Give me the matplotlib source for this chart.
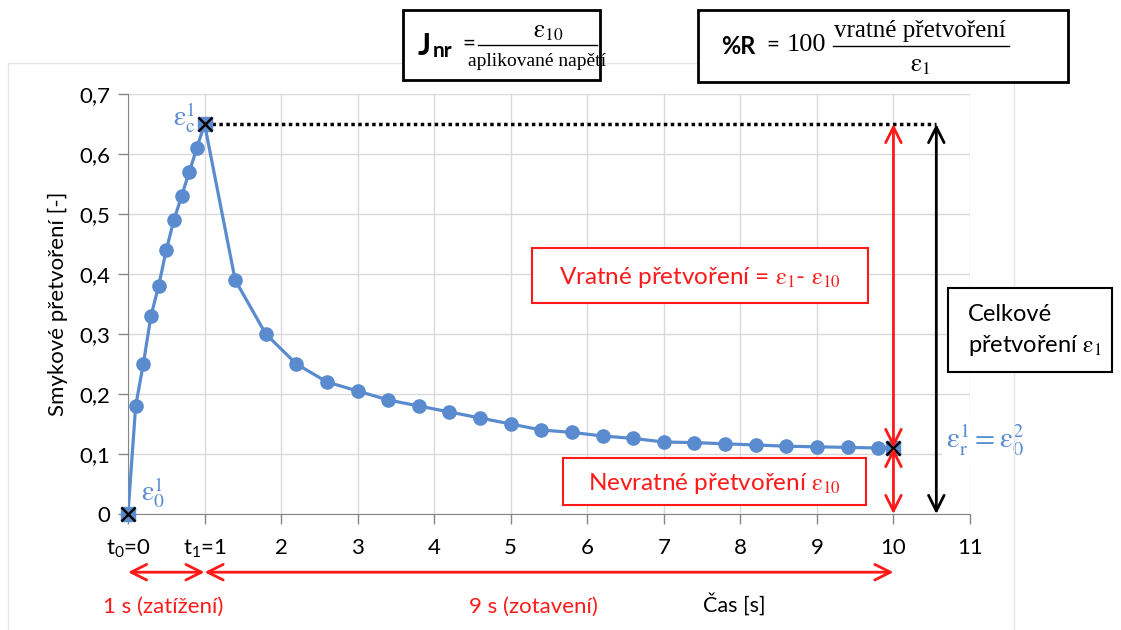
import matplotlib.pyplot as plt
from matplotlib.patches import Rectangle

plt.rcParams['font.family'] = ['Lato', 'DejaVu Sans']
plt.rcParams['mathtext.fontset'] = 'stix'

# data
time = [0, 0.1, 0.2, 0.3, 0.4, 0.5, 0.6, 0.7, 0.8, 0.9, 1.0,
        1.4, 1.8, 2.2, 2.6, 3.0, 3.4, 3.8, 4.2, 4.6, 5.0, 5.4, 5.8,
        6.2, 6.6, 7.0, 7.4, 7.8, 8.2, 8.6, 9.0, 9.4, 9.8, 10]
strain = [0, 0.18, 0.25, 0.33, 0.38, 0.44, 0.49, 0.53, 0.57, 0.61, 0.65,
          0.39, 0.30, 0.25, 0.22, 0.205, 0.19, 0.18, 0.17, 0.16, 0.15, 0.14, 0.136,
          0.13, 0.126, 0.12, 0.119, 0.117, 0.115, 0.113, 0.112, 0.111, 0.11, 0.11]
key_t = [0, 1, 10]
key_strain = [0, 0.65, 0.11]
x_ticks = [0, 1, 2, 3, 4, 5, 6, 7, 8, 9, 10, 11]
x_labels = [r'$\mathregular{t_0}$=0', r'$\mathregular{t_1}$=1', '2', '3', '4', '5', '6', '7', '8', '9', '10', '11']
y_ticks = [0, 0.1, 0.2, 0.3, 0.4, 0.5, 0.6, 0.7]
y_labels = ['0', '0,1', '0,2', '0,3', '0,4', '0,5', '0,6', '0,7']

W, H = 1121, 630
blue = '#5a8bcf'
red = '#ff1a1a'
EPS = r'\mathrm{\varepsilon}'


def fx(px):
    return px / W


def fy(py):
    return 1 - py / H


fig = plt.figure(figsize=(11.21, 6.3), dpi=100)

# chart area frame (light)
fig.patches.append(Rectangle((fx(8), fy(700)), fx(1014) - fx(8), fy(63) - fy(700),
                             transform=fig.transFigure, fill=False, ec='#e6e6e6', lw=1))

ax = fig.add_axes([fx(128), fy(514), fx(970) - fx(128), fy(94) - fy(514)])
ax.set_xlim(0, 11)
ax.set_ylim(0, 0.7)
ax.set_xticks(x_ticks)
ax.set_xticklabels(x_labels, fontsize=16)
ax.set_yticks(y_ticks)
ax.set_yticklabels(y_labels, fontsize=16)
ax.grid(True, color='#d9d9d9', lw=1)
ax.set_axisbelow(True)
for s in ['top', 'right']:
    ax.spines[s].set_visible(False)
for s in ['left', 'bottom']:
    ax.spines[s].set_color('#868686')
ax.tick_params(axis='both', color='#868686', length=7, width=1, pad=6)
ax.tick_params(axis='x', pad=10)
ax.set_ylabel('Smykové přetvoření [-]', fontsize=16, labelpad=8)

# curve
ax.plot(time, strain, color=blue, lw=2.3, marker='o', ms=9.5, zorder=3)
ax.plot(key_t, key_strain, ls='none', marker='s', ms=10, color=blue, zorder=4, clip_on=False)
ax.plot(key_t, key_strain, ls='none', marker='x', ms=10, mew=1.8, color='black', zorder=5, clip_on=False)

# dotted line at the peak
ax.plot([1, 10.56], [0.65, 0.65], color='black', lw=2.5, ls=(0, (1, 1)), zorder=2)

# vertical arrows
ap_red = dict(arrowstyle='<->', color=red, lw=2, mutation_scale=28, shrinkA=0, shrinkB=0)
ax.annotate('', xy=(10, 0.65), xytext=(10, 0.11), arrowprops=ap_red, zorder=6)
ax.annotate('', xy=(10, 0.11), xytext=(10, 0), arrowprops=ap_red, zorder=6)
ax.annotate('', xy=(10.56, 0.65), xytext=(10.56, 0),
            arrowprops=dict(arrowstyle='<->', color='black', lw=2, mutation_scale=28, shrinkA=0, shrinkB=0),
            zorder=6, annotation_clip=False)

# time arrows below axis
ax.annotate('', xy=(0, -0.097), xytext=(1, -0.097), arrowprops=ap_red, annotation_clip=False)
ax.annotate('', xy=(1, -0.097), xytext=(10, -0.097), arrowprops=ap_red, annotation_clip=False)

# point labels
ax.text(0.88, 0.66, rf'${EPS}_\mathrm{{c}}^1$', color=blue, fontsize=20, ha='right', va='center')
ax.text(0.17, 0.035, rf'${EPS}_0^1$', color=blue, fontsize=20, ha='left', va='center')
ax.text(11.2, 0.123, rf'${EPS}_\mathrm{{r}}^1 = {EPS}_0^2$', color=blue, fontsize=21,
        ha='center', va='center', zorder=7,
        bbox=dict(boxstyle='square,pad=0.15', fc='white', ec='none'))

# red boxes
fig.patches.append(Rectangle((fx(532), fy(303)), fx(868) - fx(532), fy(248) - fy(303),
                             transform=fig.transFigure, fc='white', ec=red, lw=1.5, zorder=8))
fig.text(fx(700), fy(277), rf'Vratné přetvoření = ${EPS}_1$- ${EPS}_{{10}}$', color=red,
         fontsize=17.5, ha='center', va='center', zorder=9)
fig.patches.append(Rectangle((fx(563), fy(505)), fx(866) - fx(563), fy(458) - fy(505),
                             transform=fig.transFigure, fc='white', ec=red, lw=1.5, zorder=8))
fig.text(fx(714), fy(483), rf'Nevratné přetvoření ${EPS}_{{10}}$', color=red,
         fontsize=17.5, ha='center', va='center', zorder=9)

# black box on the right
fig.patches.append(Rectangle((fx(948), fy(372)), fx(1112) - fx(948), fy(288) - fy(372),
                             transform=fig.transFigure, fc='white', ec='black', lw=1.5, zorder=8))
fig.text(fx(968), fy(331), f'Celkové\npřetvoření ${EPS}_1$', color='black',
         fontsize=17, ha='left', va='center', linespacing=1.45, zorder=9)

# formula boxes
fig.patches.append(Rectangle((fx(403), fy(80)), fx(600) - fx(403), fy(10) - fy(80),
                             transform=fig.transFigure, fc='white', ec='black', lw=2, zorder=8))
fig.text(fx(418), fy(46), 'J', fontsize=22, fontweight='bold', ha='left', va='center', zorder=9)
fig.text(fx(433), fy(51), 'nr', fontsize=15, fontweight='bold', ha='left', va='center', zorder=9)
fig.text(fx(462), fy(44), '=', fontsize=16, ha='left', va='center', zorder=9)
fig.text(fx(548), fy(31), rf'${EPS}_{{10}}$', fontsize=18, ha='center', va='center', zorder=9)
fig.add_artist(plt.Line2D([fx(478), fx(597)], [fy(45), fy(45)], color='black', lw=1, zorder=9))
fig.text(fx(537), fy(61), 'aplikované napětí', family='Liberation Serif', fontsize=14,
         ha='center', va='center', zorder=9)

fig.patches.append(Rectangle((fx(698), fy(82)), fx(1068) - fx(698), fy(10) - fy(82),
                             transform=fig.transFigure, fc='white', ec='black', lw=2, zorder=8))
fig.text(fx(721), fy(46), '%R', fontsize=17, fontweight='bold', ha='left', va='center', zorder=9)
fig.text(fx(766), fy(45), '=', fontsize=16, ha='left', va='center', zorder=9)
fig.text(fx(787), fy(45), '100', family='Liberation Serif', fontsize=19, ha='left', va='center', zorder=9)
fig.text(fx(920), fy(31), 'vratné přetvoření', family='Liberation Serif', fontsize=18,
         ha='center', va='center', zorder=9)
fig.add_artist(plt.Line2D([fx(833), fx(1009)], [fy(46), fy(46)], color='black', lw=1, zorder=9))
fig.text(fx(920), fy(65), rf'${EPS}_1$', fontsize=18, ha='center', va='center', zorder=9)

# bottom labels
fig.text(fx(163), fy(607), '1 s (zatížení)', color=red, fontsize=16, ha='center', va='center')
fig.text(fx(533), fy(607), '9 s (zotavení)', color=red, fontsize=16, ha='center', va='center')
fig.text(fx(734), fy(604), 'Čas [s]', color='black', fontsize=15.5, ha='center', va='center')

fig.savefig('out.png', dpi=100)
